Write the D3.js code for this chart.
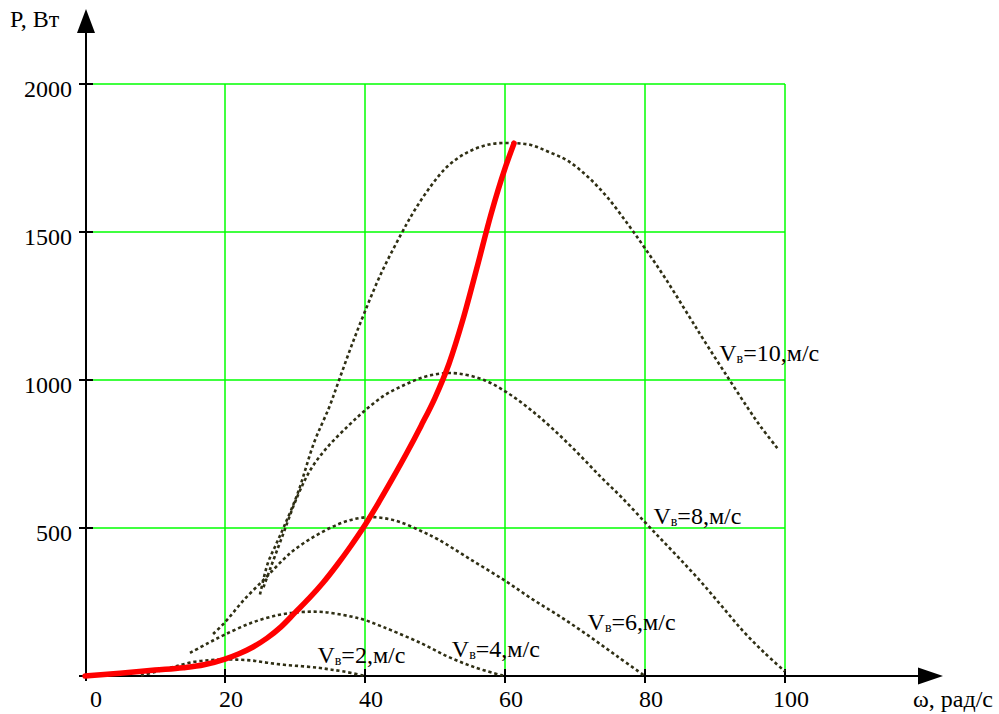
<!DOCTYPE html>
<html>
<head>
<meta charset="utf-8">
<script src="https://cdn.jsdelivr.net/npm/d3@7"></script>
<style>
  html, body { margin: 0; padding: 0; background: #fff; }
  svg text { font-family: "Liberation Serif", "Times New Roman", serif; fill: #000; }
</style>
</head>
<body>
<svg id="chart" width="999" height="714"></svg>
<script>
// Angular speed ticks (rad/s) and power ticks (W)
const xTicks = [0, 20, 40, 60, 80, 100];
const yTicks = [500, 1000, 1500, 2000];

// Wind speeds for the power curves, m/s
const windSpeeds = [2, 4, 6, 8, 10];

// Power vs. rotor speed for each wind speed
const omegaV2 = [8, 11, 13, 15.6, 18, 20, 22, 24, 26, 28.4, 31, 33.3, 35, 37, 40];
const powerV2 = [2, 20, 33, 48, 54, 56, 55, 52, 45, 38, 33, 28, 22, 15, 0];

const omegaV4 = [15, 17.5, 19.9, 23.7, 27.6, 30.9, 34.1, 38, 40, 41.9, 43.7, 48, 51.8, 55.6, 59.4, 60];
const powerV4 = [78, 110, 139, 179, 206, 216, 216, 201, 189, 172, 155, 111, 66, 30, 3, 0];

const omegaV6 = [18.3, 19.9, 22.7, 25.9, 28.4, 30, 32.3, 35, 37.5, 40, 42.5, 45, 48, 50.4, 55, 60, 64, 68, 72, 76, 80];
const powerV6 = [142, 179, 257, 334, 395, 428, 465, 500, 524, 536, 534, 520, 490, 462, 395, 322, 258, 199, 135, 67, 0];

const omegaV8 = [25.5, 26.5, 28, 30.4, 32.3, 34.7, 37.6, 39.9, 42.7, 45.6, 48.4, 50.9, 53.3, 57, 60.4, 63.7, 67, 70.4, 73.7, 76.6, 79.9, 82.3, 85, 88, 91, 94, 97, 100];
const powerV8 = [300, 365, 460, 610, 700, 775, 845, 895, 947, 983, 1010, 1022, 1022, 1000, 956, 899, 831, 753, 672, 605, 522, 462, 395, 318, 235, 152, 80, 15];

const omegaV10 = [25, 26.1, 27.2, 28.4, 30.4, 32.7, 34.9, 36.3, 38, 39.9, 42.3, 45.1, 47, 49.4, 51.8, 54.7, 58, 61.3, 63.7, 66.1, 69, 71.9, 74.7, 77.6, 80, 83, 86.3, 88.4, 91.8, 94.7, 96.6, 98.9];
const powerV10 = [275, 380, 440, 503, 618, 787, 909, 1000, 1111, 1226, 1360, 1490, 1570, 1655, 1722, 1770, 1797, 1800, 1794, 1772, 1740, 1685, 1615, 1525, 1445, 1340, 1215, 1135, 1010, 905, 840, 770];

// Maximum-power operating line
const omegaMax = [0, 5, 10, 14, 17, 20, 22, 24, 26, 28, 30, 32, 34, 36, 38, 40, 42, 44, 46, 48, 50, 52, 54, 56, 58, 60, 61.3];
const powerMax = [0, 9, 20, 28, 38, 57, 75, 98, 128, 166, 214, 262, 315, 375, 440, 510, 588, 670, 755, 845, 940, 1055, 1205, 1380, 1560, 1715, 1800];

// Curve label anchor points (ω, P)
const labelOmega = [33.2, 52.4, 71.8, 81.2, 90.6];
const labelPower = [45, 64, 155, 515, 1065];

const series = [
  { v: 2, omega: omegaV2, power: powerV2 },
  { v: 4, omega: omegaV4, power: powerV4 },
  { v: 6, omega: omegaV6, power: powerV6 },
  { v: 8, omega: omegaV8, power: powerV8 },
  { v: 10, omega: omegaV10, power: powerV10 }
];

const svg = d3.select("#chart");
const x = d3.scaleLinear().domain([0, 100]).range([85, 785]);
const y = d3.scaleLinear().domain([0, 2000]).range([676, 84]);

const fontSize = 24;

// Grid
const grid = svg.append("g").attr("stroke", "#00ff00").attr("stroke-width", 1.5);
grid.selectAll("line.h").data(yTicks).join("line")
  .attr("x1", x(0)).attr("x2", x(100))
  .attr("y1", d => y(d)).attr("y2", d => y(d));
grid.selectAll("line.v").data(xTicks.filter(d => d > 0)).join("line")
  .attr("x1", d => x(d)).attr("x2", d => x(d))
  .attr("y1", y(2000)).attr("y2", y(0));

// Axes with arrowheads
const axes = svg.append("g").attr("stroke", "#000").attr("stroke-width", 2);
axes.append("line").attr("x1", x(0) - 6).attr("x2", 925).attr("y1", y(0)).attr("y2", y(0));
axes.append("line").attr("x1", x(0) + 1).attr("x2", x(0) + 1).attr("y1", y(0) + 5).attr("y2", 25);
svg.append("path").attr("fill", "#000")
  .attr("d", `M918,${y(0) - 8.5} L943,${y(0)} L918,${y(0) + 8.5} Z`);
svg.append("path").attr("fill", "#000")
  .attr("d", `M${x(0) + 1 - 9},33 L${x(0) + 1},9 L${x(0) + 1 + 9},33 Z`);

// Tick marks
axes.selectAll("line.xt").data(xTicks.filter(d => d > 0)).join("line")
  .attr("x1", d => x(d)).attr("x2", d => x(d))
  .attr("y1", y(0) - 7).attr("y2", y(0) + 7);
axes.selectAll("line.yt").data(yTicks).join("line")
  .attr("x1", x(0) - 6).attr("x2", x(0) + 8)
  .attr("y1", d => y(d)).attr("y2", d => y(d));

// Tick labels
svg.append("g").selectAll("text").data(xTicks).join("text")
  .attr("x", d => x(d) + (d === 0 ? 11 : 6))
  .attr("y", 707)
  .attr("text-anchor", "middle")
  .attr("font-size", fontSize)
  .text(d => d);
svg.append("g").selectAll("text").data(yTicks).join("text")
  .attr("x", 72)
  .attr("y", d => y(d) + 13)
  .attr("text-anchor", "end")
  .attr("font-size", fontSize)
  .text(d => d);

// Axis titles
svg.append("text").attr("x", 10).attr("y", 27).attr("font-size", fontSize).text("P, Вт");
svg.append("text").attr("x", 993).attr("y", 707).attr("text-anchor", "end")
  .attr("font-size", fontSize).text("ω, рад/с");

// Power curves (dotted)
const line = d3.line()
  .x(d => x(d[0])).y(d => y(d[1]))
  .curve(d3.curveCatmullRom.alpha(0.5));

svg.append("g").selectAll("path").data(series).join("path")
  .attr("d", s => line(s.omega.map((w, i) => [w, s.power[i]])))
  .attr("fill", "none")
  .attr("stroke", "#2f2f14")
  .attr("stroke-width", 2.6)
  .attr("stroke-dasharray", "3.2,2.8");

// Maximum-power line
const smooth = d3.line()
  .x(d => x(d[0])).y(d => y(d[1]))
  .curve(d3.curveMonotoneX);
svg.append("path")
  .attr("d", smooth(omegaMax.map((w, i) => [w, powerMax[i]])))
  .attr("fill", "none")
  .attr("stroke", "#ff0000")
  .attr("stroke-width", 5.5)
  .attr("stroke-linecap", "round");

// Curve labels: V with subscript в
const labels = svg.append("g").selectAll("text").data(windSpeeds).join("text")
  .attr("x", (d, i) => x(labelOmega[i]))
  .attr("y", (d, i) => y(labelPower[i]))
  .attr("font-size", fontSize);
labels.append("tspan").text("V");
labels.append("tspan").attr("font-size", 14).attr("dy", 2).text("в");
labels.append("tspan").attr("dy", -2).text(d => `=${d},м/с`);
</script>
</body>
</html>
